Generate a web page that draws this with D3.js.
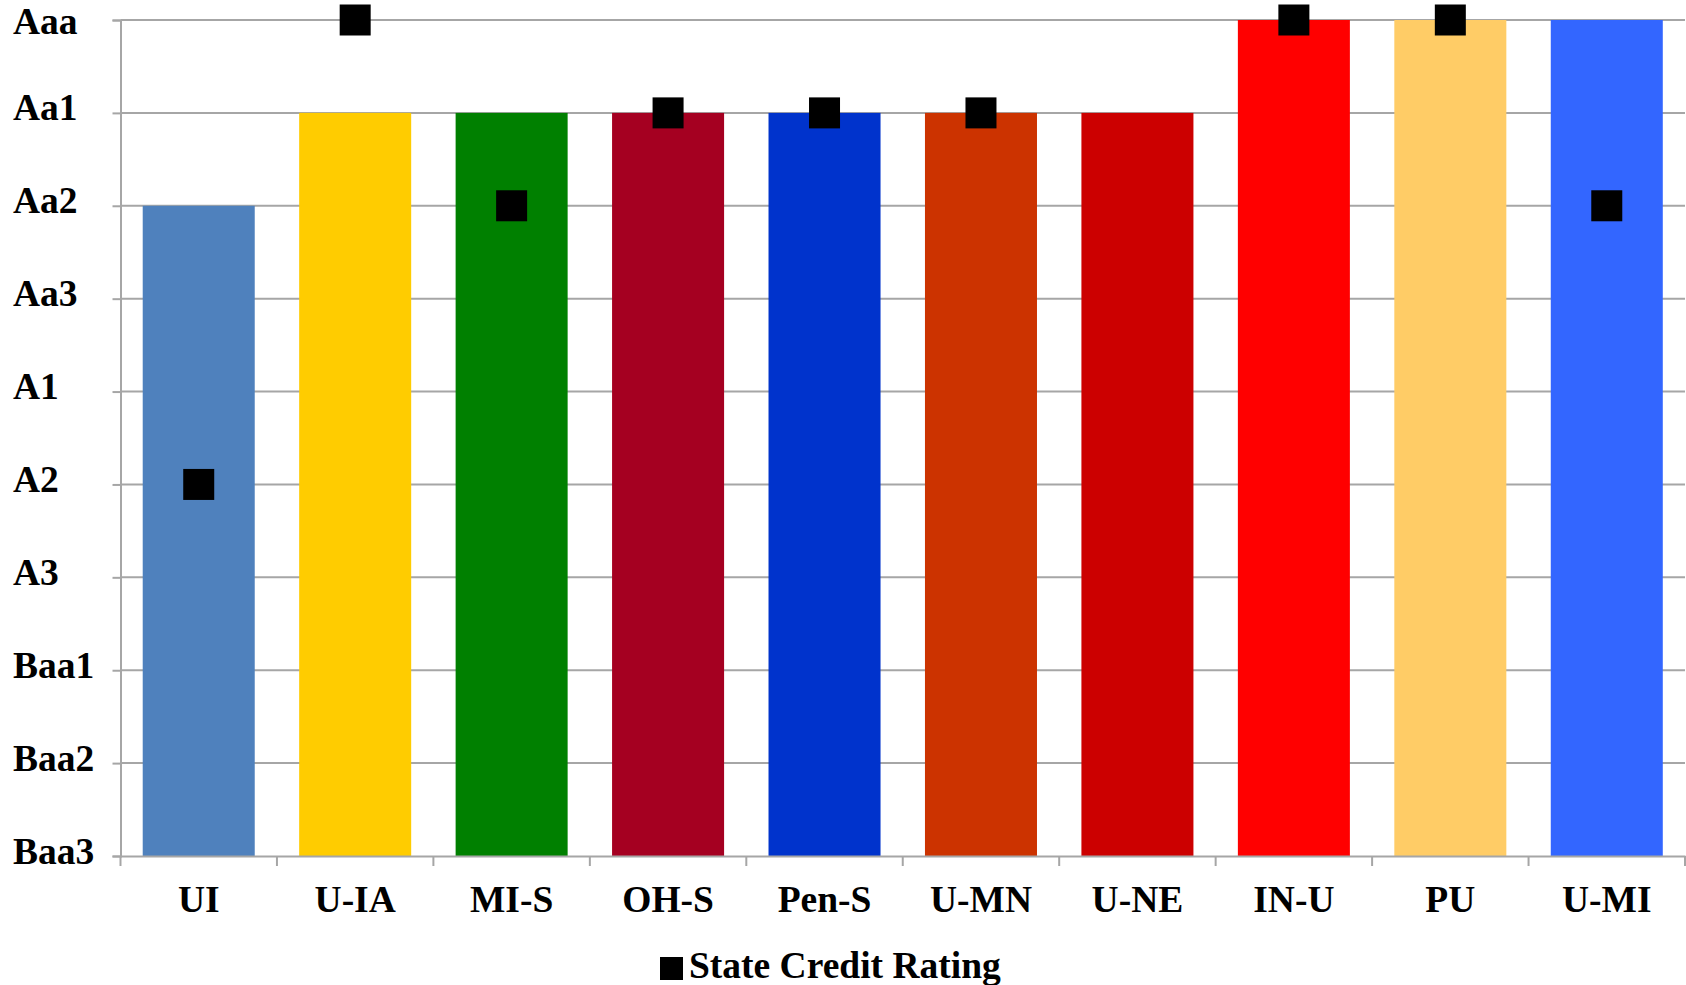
<!DOCTYPE html>
<html><head><meta charset="utf-8">
<script src="https://cdn.jsdelivr.net/npm/d3@7"></script>
<style>body{margin:0;background:#fff;} svg{display:block;}</style>
</head><body>
<svg id="c" width="1686" height="985"></svg>
<script>
const ratings = ["Baa3","Baa2","Baa1","A3","A2","A1","Aa3","Aa2","Aa1","Aaa"];
const categories = ["UI","U-IA","MI-S","OH-S","Pen-S","U-MN","U-NE","IN-U","PU","U-MI"];
const institutionRating = ["Aa2","Aa1","Aa1","Aa1","Aa1","Aa1","Aa1","Aaa","Aaa","Aaa"];
const stateRating = ["A2","Aaa","Aa2","Aa1","Aa1","Aa1",null,"Aaa","Aaa","Aa2"];
const barColors = ["#4F81BD","#FFCC00","#008000","#A50021","#0033CC","#CC3300","#CC0000","#FF0000","#FFCC66","#3366FF"];
const legendLabel = "State Credit Rating";

(function(){
const svg = d3.select("#c");
const pLeft = 120.5, pRight = 1685, pTop = 20, pBottom = 856;
const font = "'Liberation Serif','Times New Roman',serif";
const fs = 37.5;

const x = d3.scaleBand().domain(categories).range([pLeft, pRight]).paddingInner(0.284).paddingOuter(0.142);
const y = d3.scalePoint().domain(ratings).range([pBottom, pTop]);
const grid = "#a6a6a6";

// gridlines
svg.append("g").selectAll("line").data(ratings.slice(1)).join("line")
  .attr("x1", pLeft).attr("x2", pRight).attr("y1", d => y(d)).attr("y2", d => y(d))
  .attr("stroke", grid).attr("stroke-width", 2);

// bars
svg.append("g").selectAll("rect").data(categories).join("rect")
  .attr("x", d => x(d)).attr("width", x.bandwidth())
  .attr("y", (d,i) => y(institutionRating[i]))
  .attr("height", (d,i) => pBottom - y(institutionRating[i]))
  .attr("fill", (d,i) => barColors[i]);

// y axis
const topRating = ratings[ratings.length - 1];
const yAxis = svg.append("g").attr("transform", `translate(${pLeft},0)`)
  .call(d3.axisLeft(y).tickSize(8).tickPadding(0));
yAxis.select(".domain").attr("stroke", grid).attr("stroke-width", 2);
yAxis.selectAll(".tick line").attr("stroke", grid).attr("stroke-width", 2);
yAxis.selectAll(".tick text")
  .attr("x", 13 - pLeft).attr("y", d => d === topRating ? 1 : -5).attr("dy", "0.32em").attr("text-anchor", "start")
  .attr("font-family", font).attr("font-weight", "bold").attr("font-size", fs).attr("fill", "#000");

// x axis
const xAxis = svg.append("g").attr("transform", `translate(0,${pBottom})`)
  .call(d3.axisBottom(x).tickSize(0).tickPadding(0));
xAxis.select(".domain").attr("stroke", grid).attr("stroke-width", 2);
xAxis.selectAll(".tick text").attr("y", 56).attr("dy", 0)
  .attr("font-family", font).attr("font-weight", "bold").attr("font-size", fs).attr("fill", "#000");
// category boundary ticks
const step = x.step();
svg.append("g").selectAll("line").data(d3.range(categories.length + 1)).join("line")
  .attr("x1", i => pLeft + i * step).attr("x2", i => pLeft + i * step)
  .attr("y1", pBottom).attr("y2", pBottom + 10)
  .attr("stroke", grid).attr("stroke-width", 2);

// markers
const ms = 31;
svg.append("g").selectAll("rect").data(categories.filter((d,i) => stateRating[i] !== null)).join("rect")
  .attr("x", d => x(d) + x.bandwidth()/2 - ms/2)
  .attr("y", d => y(stateRating[categories.indexOf(d)]) - ms/2)
  .attr("width", ms).attr("height", ms).attr("fill", "#000");

// legend
const lg = svg.append("g");
lg.append("rect").attr("x", 660).attr("y", 957).attr("width", 23).attr("height", 23).attr("fill", "#000");
lg.append("text").attr("x", 689).attr("y", 978).text(legendLabel)
  .attr("font-family", font).attr("font-weight", "bold").attr("font-size", fs).attr("fill", "#000");
})();
</script>
</body></html>
